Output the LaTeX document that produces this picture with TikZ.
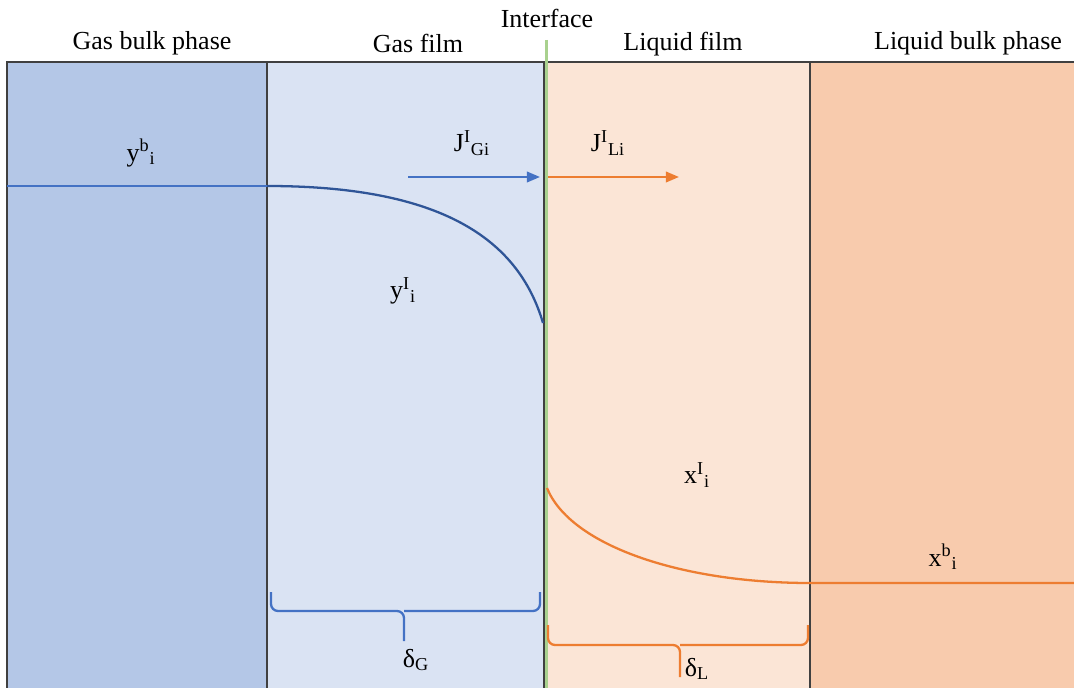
\documentclass[tikz,border=0pt]{standalone}
\usepackage{fontspec}
\setmainfont{Liberation Serif}
\usetikzlibrary{arrows.meta}
\definecolor{gas-bulk}{HTML}{B4C7E7}
\definecolor{gas-film}{HTML}{DAE3F3}
\definecolor{liq-film}{HTML}{FBE5D6}
\definecolor{liq-bulk}{HTML}{F8CBAD}
\definecolor{frame-gray}{HTML}{404040}
\definecolor{flux-blue}{HTML}{4472C4}
\definecolor{curve-blue}{HTML}{2F5597}
\definecolor{flux-orange}{HTML}{ED7D31}
\definecolor{iface-green}{HTML}{A9D18E}

\begin{document}
\begin{tikzpicture}[x=0.02cm, y=-0.02cm,
          every node/.style={font=\fontsize{14.8}{17}\selectfont, inner sep=0pt},
          phase/.style={draw=frame-gray, line width=0.85pt},
          flux/.style={line width=1.3pt, -{Triangle[length=7.5pt, width=6pt]}},
          profile/.style={line width=1.3pt},
          bracket/.style={line width=1.3pt, rounded corners=4pt}]
        % Two-film model: gas bulk | gas film | interface | liquid film | liquid bulk
        % Coordinates are pixels of the sketch, y downwards
        \useasboundingbox (0,0) rectangle (1074,688);
        \fill[gas-bulk] (7,62) rectangle (267,688);
        \fill[gas-film] (267,62) rectangle (544,688);
        \fill[liq-film] (544,62) rectangle (810,688);
        \fill[liq-bulk] (810,62) rectangle (1074,688);
        \draw[phase] (7,688) -- (7,62) -- (1074,62);
        \draw[phase] (267,62) -- (267,688);
        \draw[phase] (810,62) -- (810,688);
        \draw[phase] (544,62) -- (544,688);
        \draw[iface-green, line width=1.7pt] (546,40) -- (546,688);

        % headings
        \node (GB) at (152,43) {Gas bulk phase};
        \node (GF) at (418,43) {Gas film};
        \node (IF) at (547,18) {Interface};
        \node (LF) at (683,44) {Liquid film};
        \node (LB) at (968,43) {Liquid bulk phase};

        % concentration profiles
        \draw[profile, flux-blue] (7,186) -- (267,186);
        \draw[profile, curve-blue] (267,186) .. controls (440,186) and (518,238) .. (543,323);
        \draw[profile, flux-orange] (547,488) .. controls (570,545) and (680,583) .. (810,583)
              -- (1074,583);
        \node (yb) at (141,153) {y\textsuperscript{b}\textsubscript{i}};
        \node (yI) at (403,291) {y\textsuperscript{I}\textsubscript{i}};
        \node (xI) at (697,475) {x\textsuperscript{I}\textsubscript{i}};
        \node (xb) at (943,557) {x\textsuperscript{b}\textsubscript{i}};

        % fluxes
        \node (JG) at (472,143) {J\textsuperscript{I}\textsubscript{Gi}};
        \node (JL) at (608,143) {J\textsuperscript{I}\textsubscript{Li}};
        \coordinate (jg0) at (408,177);
        \coordinate (jg1) at (540,177);
        \coordinate (jl0) at (548,177);
        \coordinate (jl1) at (679,177);
        \draw[flux, flux-blue] (jg0) -- (jg1);
        \draw[flux, flux-orange] (jl0) -- (jl1);

        % film thicknesses
        \draw[bracket, flux-blue] (271,592) |- (404,611) -- (404,641);
        \draw[bracket, flux-blue] (540,592) |- (404,611);
        \draw[bracket, flux-orange] (548,625) |- (680,645) -- (680,677);
        \draw[bracket, flux-orange] (808,625) |- (680,645);
        \node (dG) at (416,660) {δ\textsubscript{G}};
        \node (dL) at (697,669) {δ\textsubscript{L}};
      \end{tikzpicture}
\end{document}
